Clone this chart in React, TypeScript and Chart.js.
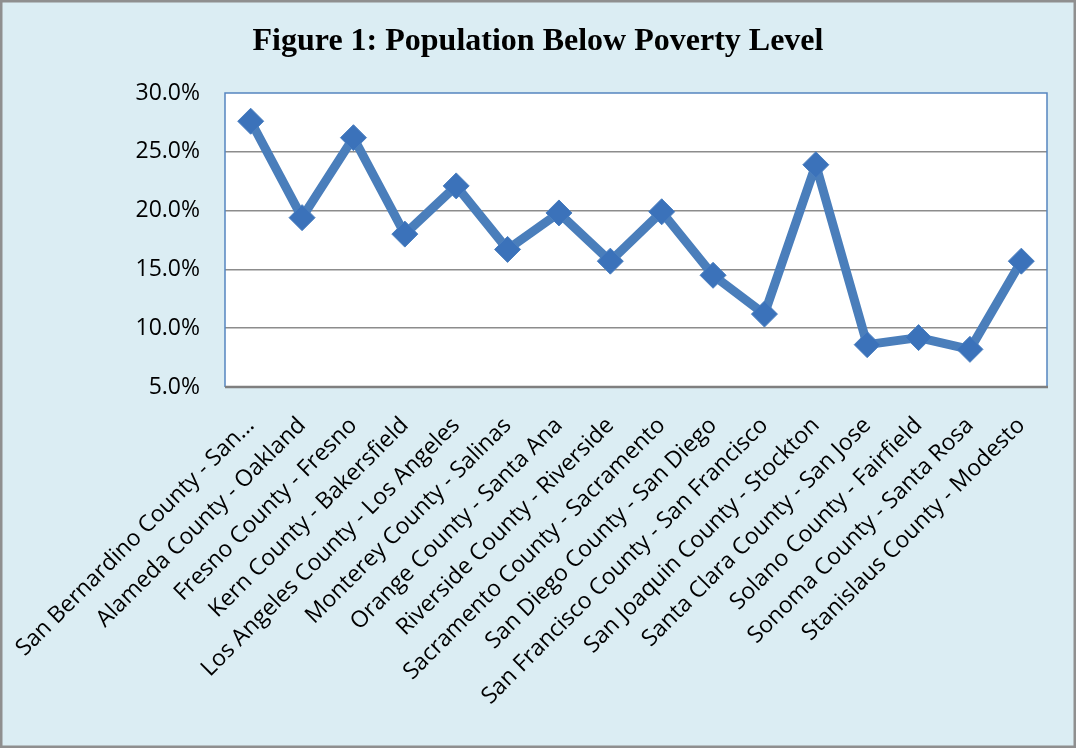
import { useEffect, useRef } from "react";
import { Chart, registerables } from "chart.js";

Chart.register(...registerables);

// County / city pairs along the category axis
const categories = [
  "San Bernardino County - San...",
  "Alameda County - Oakland",
  "Fresno County - Fresno",
  "Kern County - Bakersfield",
  "Los Angeles County - Los Angeles",
  "Monterey County - Salinas",
  "Orange County - Santa Ana",
  "Riverside County - Riverside",
  "Sacramento County - Sacramento",
  "San Diego County - San Diego",
  "San Francisco County - San Francisco",
  "San Joaquin County - Stockton",
  "Santa Clara County - San Jose",
  "Solano County - Fairfield",
  "Sonoma County - Santa Rosa",
  "Stanislaus County - Modesto",
];

// Share of population below the poverty level, in percent
const povertyRates = [
  27.6, 19.4, 26.2, 18.0, 22.1, 16.7, 19.8, 15.7, 19.9, 14.5, 11.2, 23.9, 8.6, 9.2, 8.2, 15.7,
];

const yMin = 5;
const yMax = 30;
const yStep = 5;

const titleText = "Figure 1: Population Below Poverty Level";

const PAGE_BG = "#dbedf3";
const FRAME = "#8f8f8f";
const PLOT_EDGE = "#5585c0";
const GRID = "#8c8c8c";
const LINE_BLUE = "#4a7ebb";
const MARKER_BLUE = "#3b72ba";

const LABEL_FONT = "'Open Sans', 'Lato', sans-serif";

// Paints the outer panel, the white plotting area and its edges
const panelPlugin = {
  id: "panel",
  beforeDraw(chart: Chart) {
    const { ctx, width, height, chartArea } = chart;
    ctx.save();
    ctx.fillStyle = PAGE_BG;
    ctx.fillRect(0, 0, width, height);
    ctx.strokeStyle = FRAME;
    ctx.lineWidth = 2.5;
    ctx.strokeRect(1.25, 1.25, width - 2.5, height - 2.5);
    ctx.fillStyle = "#ffffff";
    ctx.fillRect(chartArea.left, chartArea.top, chartArea.right - chartArea.left, chartArea.bottom - chartArea.top);
    ctx.restore();
  },
  beforeDatasetsDraw(chart: Chart) {
    const { ctx, chartArea } = chart;
    const { left, top, right, bottom } = chartArea;
    ctx.save();
    ctx.strokeStyle = PLOT_EDGE;
    ctx.lineWidth = 1.5;
    ctx.beginPath();
    ctx.moveTo(left, bottom);
    ctx.lineTo(left, top);
    ctx.lineTo(right, top);
    ctx.lineTo(right, bottom);
    ctx.stroke();
    ctx.strokeStyle = "#7f7f7f";
    ctx.lineWidth = 2.5;
    ctx.beginPath();
    ctx.moveTo(left, bottom);
    ctx.lineTo(right + 1, bottom);
    ctx.stroke();
    ctx.restore();
  },
};

export default function App() {
  const canvasRef = useRef<HTMLCanvasElement | null>(null);

  useEffect(() => {
    const canvas = canvasRef.current;
    if (!canvas) return;

    const chart = new Chart(canvas, {
      type: "line",
      data: {
        labels: categories,
        datasets: [
          {
            data: povertyRates,
            borderColor: LINE_BLUE,
            borderWidth: 9,
            pointStyle: "rectRot",
            pointRadius: 13,
            pointBackgroundColor: MARKER_BLUE,
            pointBorderColor: "#4a7fc0",
            pointBorderWidth: 1,
            tension: 0,
            borderJoinStyle: "round",
            borderCapStyle: "round",
          },
        ],
      },
      options: {
        responsive: false,
        animation: false,
        devicePixelRatio: 1,
        layout: { padding: { left: 29, right: 29, top: 0, bottom: 0 } },
        plugins: {
          legend: { display: false },
          tooltip: { enabled: false },
          title: {
            display: true,
            text: titleText,
            color: "#000000",
            font: { family: "'Liberation Serif', 'Times New Roman', serif", size: 32, weight: "bold", lineHeight: 1.2 },
            padding: { top: 23, bottom: 31.6 },
          },
        },
        scales: {
          x: {
            type: "category",
            offset: true,
            grid: { display: false, drawTicks: false },
            border: { display: false },
            ticks: {
              autoSkip: false,
              minRotation: 45,
              maxRotation: 45,
              padding: 25,
              color: "#000000",
              font: { family: LABEL_FONT, size: 23 },
            },
            afterFit(scale: any) {
              scale.height = 361;
              scale.paddingLeft = 0;
              scale.paddingRight = 0;
            },
          },
          y: {
            min: yMin,
            max: yMax,
            grid: {
              drawTicks: false,
              lineWidth: 1.5,
              color: (c: any) =>
                c.tick && (c.tick.value === yMax || c.tick.value === yMin) ? "rgba(0,0,0,0)" : GRID,
            },
            border: { display: false },
            ticks: {
              stepSize: yStep,
              padding: 25,
              color: "#000000",
              font: { family: LABEL_FONT, size: 23 },
              callback: (v: any) => Number(v).toFixed(1) + "%",
            },
            afterFit(scale: any) {
              scale.width = 196;
            },
          },
        },
      },
      plugins: [panelPlugin],
    });

    return () => chart.destroy();
  }, []);

  return (
    <div style={{ position: "fixed", left: 0, top: 0, width: 1076, height: 748 }}>
      <canvas ref={canvasRef} width={1076} height={748} style={{ display: "block", width: 1076, height: 748 }} />
    </div>
  );
}
